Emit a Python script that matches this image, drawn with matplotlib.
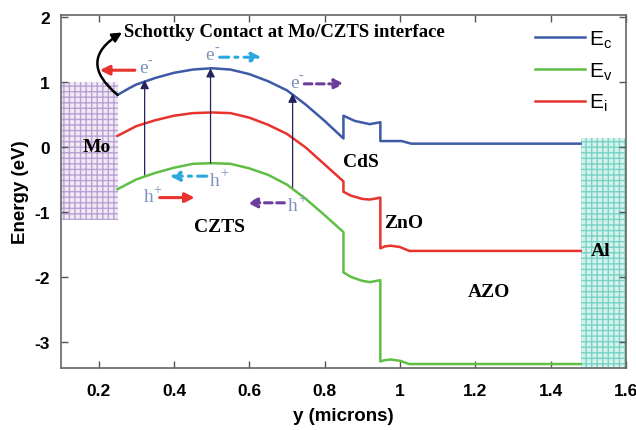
import matplotlib
matplotlib.use('Agg')
import matplotlib.pyplot as plt

plt.rcParams['axes.unicode_minus'] = False

# band diagram of Mo/CZTS/CdS/ZnO/AZO/Al cell
ec_x = [0.25, 0.28, 0.30, 0.35, 0.40, 0.45, 0.50, 0.55, 0.60, 0.65, 0.70, 0.75, 0.80, 0.85,
        0.85, 0.88, 0.92, 0.948, 0.948, 0.98, 1.005, 1.03, 1.48]
ec_y = [0.80, 0.90, 0.96, 1.06, 1.14, 1.19, 1.21, 1.19, 1.12, 1.01, 0.87, 0.65, 0.40, 0.13,
        0.48, 0.40, 0.35, 0.38, 0.09, 0.09, 0.09, 0.05, 0.05]

ei_x = [0.25, 0.28, 0.30, 0.35, 0.40, 0.45, 0.50, 0.55, 0.60, 0.65, 0.70, 0.75, 0.80, 0.85,
        0.85, 0.87, 0.90, 0.92, 0.948, 0.948, 0.96, 0.976, 1.00, 1.025, 1.48]
ei_y = [0.17, 0.26, 0.32, 0.41, 0.48, 0.52, 0.53, 0.52, 0.45, 0.34, 0.20, -0.01, -0.27, -0.53,
        -0.69, -0.75, -0.80, -0.81, -0.78, -1.56, -1.53, -1.52, -1.54, -1.60, -1.60]

ev_x = [0.25, 0.28, 0.30, 0.35, 0.40, 0.45, 0.50, 0.55, 0.60, 0.65, 0.70, 0.75, 0.80, 0.85,
        0.85, 0.87, 0.90, 0.92, 0.948, 0.948, 0.96, 0.976, 1.00, 1.025, 1.48]
ev_y = [-0.65, -0.56, -0.50, -0.40, -0.32, -0.26, -0.25, -0.26, -0.33, -0.43, -0.58, -0.80, -1.05, -1.31,
        -1.93, -2.00, -2.06, -2.08, -2.05, -3.30, -3.28, -3.27, -3.29, -3.34, -3.34]

# contact blocks
mo_x = [0.1, 0.25]
mo_y = [-1.12, 1.0]
al_x = [1.48, 1.6]
al_y = [-3.4, 0.14]

# photo-generation arrows (Ev -> Ec)
gen_x = [0.322, 0.497, 0.715]
gen_bottom = [-0.43, -0.25, -0.62]
gen_top = [1.03, 1.21, 0.82]

layer_names = ['Mo', 'CZTS', 'CdS', 'ZnO', 'AZO', 'Al']
layer_x = [0.195, 0.521, 0.897, 1.011, 1.236, 1.533]
layer_y = [0.0, -1.22, -0.22, -1.17, -2.23, -1.6]

blue = '#3d5aa8'
green = '#5fbf45'
red = '#e8322e'
cyan = '#2aa8df'
purple = '#6b3e9c'
carrier = '#7e92bd'
navy = '#25235e'
serif = 'Liberation Serif'

fig, ax = plt.subplots(figsize=(6.36, 4.31), dpi=100)
fig.subplots_adjust(left=0.096, right=0.984, top=0.963, bottom=0.144)

ax.fill_between(mo_x, mo_y[0], mo_y[1], facecolor='#f1eaf5', edgecolor='#b9a2d3',
                hatch='+++', linewidth=0, zorder=1)
ax.fill_between(al_x, al_y[0], al_y[1], facecolor='#d6f2ed', edgecolor='#78d3c6',
                hatch='+++', linewidth=0, zorder=1)

ax.plot(ec_x, ec_y, color=blue, lw=1.8, label=r'$\mathregular{E_c}$', zorder=3)
ax.plot(ev_x, ev_y, color=green, lw=1.8, label=r'$\mathregular{E_v}$', zorder=3)
ax.plot(ei_x, ei_y, color=red, lw=1.8, label=r'$\mathregular{E_i}$', zorder=3)

for x, y0, y1 in zip(gen_x, gen_bottom, gen_top):
    ax.annotate('', xy=(x, y1), xytext=(x, y0),
                arrowprops=dict(arrowstyle='-|>', color=navy, lw=0.9,
                                mutation_scale=13, shrinkA=0, shrinkB=0), zorder=4)


def carrier_label(x, y, base, sup):
    ax.text(x, y, base, color=carrier, fontsize=14, family=serif, ha='center', va='center')
    ax.annotate(sup, xy=(x, y), xytext=(3.5, 5), textcoords='offset points',
                color=carrier, fontsize=10, family=serif, ha='left', va='center')


def move_arrow(x0, x1, y, color, ls):
    ax.annotate('', xy=(x1, y), xytext=(x0, y),
                arrowprops=dict(arrowstyle='-|>', color=color, lw=2.2, ls=ls,
                                mutation_scale=14, shrinkA=0, shrinkB=0))


solid = '-'
dashdot = (0, (3, 2, 1, 2))
dashed = (0, (2.5, 1.5))

# electrons
carrier_label(0.318, 1.22, 'e', '-')
move_arrow(0.296, 0.203, 1.18, red, solid)
carrier_label(0.494, 1.42, 'e', '-')
move_arrow(0.521, 0.632, 1.38, cyan, dashdot)
carrier_label(0.719, 0.99, 'e', '-')
move_arrow(0.746, 0.852, 0.97, purple, dashed)
# holes
carrier_label(0.332, -0.76, 'h', '+')
move_arrow(0.362, 0.455, -0.78, red, solid)
carrier_label(0.509, -0.51, 'h', '+')
move_arrow(0.487, 0.389, -0.45, cyan, dashdot)
carrier_label(0.716, -0.9, 'h', '+')
move_arrow(0.693, 0.595, -0.86, purple, dashed)

# Schottky note with curved arrow
ax.text(0.266, 1.77, 'Schottky Contact at Mo/CZTS interface', family=serif,
        fontweight='bold', fontsize=13.5, ha='left', va='center')
ax.annotate('', xy=(0.262, 1.76), xytext=(0.25, 0.80),
            arrowprops=dict(arrowstyle='-|>', color='black', lw=1.8, mutation_scale=14,
                            connectionstyle='arc3,rad=-0.7', shrinkA=0, shrinkB=0))

for name, x, y in zip(layer_names, layer_x, layer_y):
    ax.text(x, y, name, family=serif, fontweight='bold', fontsize=14,
            ha='center', va='center', zorder=5)

ax.set_xlim(0.1, 1.6)
ax.set_ylim(-3.4, 2.03)
ax.set_xticks([0.2, 0.4, 0.6, 0.8, 1.0, 1.2, 1.4, 1.6])
ax.set_xticklabels(['0.2', '0.4', '0.6', '0.8', '1', '1.2', '1.4', '1.6'])
ax.set_yticks([-3, -2, -1, 0, 1, 2])
ax.tick_params(direction='in', top=True, right=True, length=5, width=1, color='#555555',
               labelsize=12.5)
ax.tick_params(axis='x', pad=11)
ax.tick_params(axis='y', pad=8)
for lab in ax.get_xticklabels() + ax.get_yticklabels():
    lab.set_fontweight('bold')
    lab.set_family('Liberation Sans')
for s in ax.spines.values():
    s.set_color('#666666')
    s.set_linewidth(1.2)

ax.set_xlabel('y (microns)', fontsize=13.5, fontweight='bold', family='Liberation Sans', labelpad=6)
ax.set_ylabel('Energy (eV)', fontsize=13.5, fontweight='bold', family='Liberation Sans', labelpad=4)

leg = ax.legend(loc='upper right', frameon=False, handlelength=2.4,
                handletextpad=0.2, labelspacing=0.5, borderaxespad=0.25,
                prop={'family': 'Liberation Sans', 'size': 15})

fig.savefig('out.png', dpi=100)
